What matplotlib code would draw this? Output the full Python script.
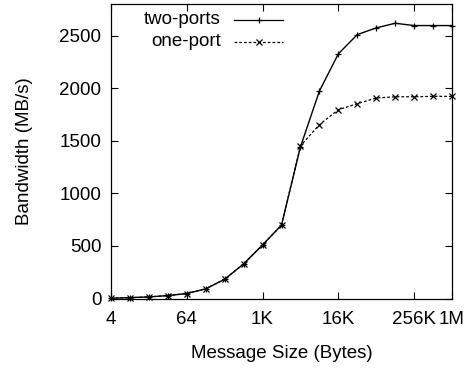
import matplotlib
matplotlib.use("Agg")
import matplotlib.pyplot as plt

# message sizes in bytes (powers of two from 4 B to 1 MB)
sizes = [2**k for k in range(2, 21)]
two_ports = [3, 8, 15, 28, 47, 92, 183, 329, 509, 698, 1441,
             1972, 2326, 2509, 2573, 2617, 2595, 2595, 2595]
one_port = [3, 8, 15, 28, 47, 92, 183, 329, 509, 698, 1451,
            1653, 1795, 1852, 1906, 1918, 1918, 1922, 1922]
xtick_vals = [4, 64, 1024, 16384, 262144, 1048576]
xtick_labels = ["4", "64", "1K", "16K", "256K", "1M"]
ytick_vals = [0, 500, 1000, 1500, 2000, 2500]

plt.rcParams["font.family"] = ["Liberation Sans", "DejaVu Sans"]
FS = 13.5

fig = plt.figure(figsize=(4.71, 3.68), dpi=100)
W, H = 471, 368
L, R, T, B = 111, 452, 4, 298.5
ax = fig.add_axes([L / W, (H - B) / H, (R - L) / W, (B - T) / H])

ax.plot(sizes, two_ports, color="black", lw=1.0, marker="+", ms=5, mew=0.9,
        clip_on=False, zorder=3)
ax.plot(sizes, one_port, color="black", lw=0.9, ls=(0, (2.2, 1.6)), marker="x",
        ms=4, mew=0.9, clip_on=False, zorder=3)

ax.set_xscale("log", base=2)
ax.set_xlim(4, 2**20)
ax.set_ylim(0, 2800)
ax.set_xticks(xtick_vals)
ax.set_xticklabels(xtick_labels)
ax.set_yticks(ytick_vals)
ax.minorticks_off()
ax.tick_params(direction="in", length=5, width=0.8, top=True, right=True,
               labelsize=FS)
ax.tick_params(axis="x", pad=9)
ax.tick_params(axis="y", pad=7)
for sp in ax.spines.values():
    sp.set_linewidth(0.9)

ax.set_xlabel("Message Size (Bytes)", fontsize=FS, labelpad=12)
ax.set_ylabel("Bandwidth (MB/s)", fontsize=FS, labelpad=19)

# gnuplot-style key: right-aligned text followed by the line sample
def key_entry(y_px, label, ls, marker, ms):
    tx = (221 - L) / (R - L)
    ty = (B - y_px) / (B - T)
    ax.text(tx, ty, label, transform=ax.transAxes, ha="right", va="center",
            fontsize=FS)
    x0, x1 = (234 - L) / (R - L), (283 - L) / (R - L)
    ax.plot([x0, x1], [ty, ty], transform=ax.transAxes, color="black",
            lw=0.9, ls=ls, clip_on=False)
    ax.plot([(x0 + x1) / 2], [ty], transform=ax.transAxes, color="black",
            marker=marker, ms=ms, mew=0.9, clip_on=False)

key_entry(20, "two-ports", "-", "+", 5)
key_entry(42, "one-port", (0, (2.2, 1.6)), "x", 4)

fig.savefig("out.png", dpi=100)
